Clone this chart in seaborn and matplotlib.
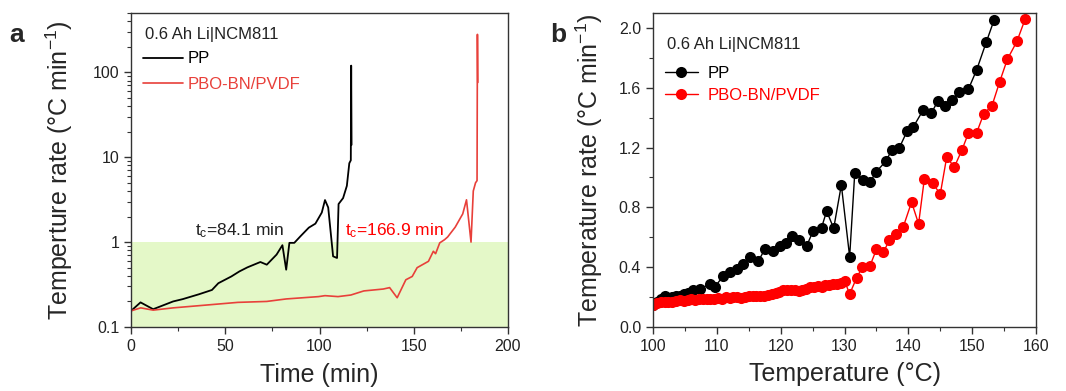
import matplotlib
matplotlib.use("Agg")
import matplotlib.pyplot as plt
import matplotlib.ticker as mticker
import pandas as pd
import seaborn as sns

# ---- panel a: temperature rate vs time (log scale) ----
pp_time = [0, 5, 11.7, 22.3, 27.4, 36, 42.9, 46.3, 53.2, 57.5, 61.7, 68.6, 72, 77.2,
           80.3, 82.3, 84, 86.6, 90, 94.3, 97.8, 101.2, 102.9, 104.6, 107.2, 109.3,
           110.1, 112.5, 114.5, 115.8, 116.6, 116.8, 117.0]
pp_rate = [0.155, 0.195, 0.162, 0.2, 0.213, 0.243, 0.273, 0.328, 0.394, 0.452, 0.504,
           0.583, 0.542, 0.713, 0.92, 0.473, 0.98, 0.98, 1.18, 1.48, 1.65, 2.23, 3.13,
           2.56, 0.68, 0.65, 2.81, 3.3, 4.6, 8.5, 9.2, 120, 14]

pbo_time = [0, 5.1, 11.7, 22.3, 39.5, 56.6, 72, 82.3, 99.5, 102.9, 109.8, 116.6, 123.5,
            133.8, 137.2, 141.2, 145.8, 149.2, 151.8, 157.8, 160.4, 161.6, 163.8, 166.4,
            168, 172, 176, 178, 180.4, 181.6, 182.8, 183.6, 183.8, 184.0]
pbo_rate = [0.155, 0.168, 0.158, 0.168, 0.181, 0.195, 0.2, 0.214, 0.228, 0.234, 0.228,
            0.238, 0.266, 0.28, 0.291, 0.221, 0.36, 0.394, 0.5, 0.594, 0.78, 0.73, 0.98,
            1.07, 1.15, 1.5, 2.15, 3.15, 1.0, 4.0, 5.0, 5.3, 280, 76]

# ---- panel b: temperature rate vs temperature ----
pp_temp = [100.0, 100.6, 101.2, 101.8, 102.4, 103.0, 103.6, 104.2, 104.8, 105.4, 106.3,
           107.3, 108.9, 109.7, 111.0, 112.0, 113.1, 114.1, 115.2, 116.5, 117.5, 118.8,
           119.9, 120.9, 121.7, 122.8, 124.1, 125.1, 126.4, 127.2, 128.3, 129.5, 130.8,
           131.6, 132.9, 134.0, 135.0, 136.5, 137.4, 138.6, 139.8, 140.8, 142.3, 143.6,
           144.6, 145.8, 146.8, 147.9, 149.4, 150.7, 152.2, 153.4]
pp_trate = [0.15, 0.17, 0.19, 0.21, 0.195, 0.2, 0.205, 0.21, 0.22, 0.225, 0.245, 0.256,
            0.285, 0.27, 0.34, 0.37, 0.39, 0.42, 0.47, 0.44, 0.52, 0.51, 0.54, 0.56, 0.61,
            0.58, 0.545, 0.645, 0.665, 0.775, 0.66, 0.95, 0.47, 1.03, 0.985, 0.97, 1.04,
            1.11, 1.185, 1.2, 1.31, 1.34, 1.45, 1.43, 1.51, 1.48, 1.52, 1.57, 1.59, 1.72,
            1.905, 2.05]

pbo_temp = [100.0, 100.6, 101.2, 101.8, 102.4, 103.0, 103.6, 104.2, 104.8, 105.4, 106.0,
            106.6, 107.2, 107.8, 108.4, 109.0, 109.6, 110.2, 110.8, 111.4, 112.0, 112.6,
            113.2, 113.8, 114.4, 115.0, 115.6, 116.2, 116.8, 117.4, 118.0, 118.6, 119.2,
            119.8, 120.4, 121.0, 121.6, 122.2, 122.8, 123.4, 124.0, 124.6, 125.2, 125.8,
            126.4, 127.0, 127.6, 128.2, 128.8, 129.4, 130.0, 130.8, 131.9, 132.8, 134.0,
            135.0, 136.1, 137.0, 138.1, 139.2, 140.5, 141.6, 142.5, 143.8, 145.0, 146.0,
            147.2, 148.4, 149.4, 150.7, 151.8, 153.1, 154.3, 155.5, 157.0, 158.3]
pbo_trate = [0.15, 0.16, 0.165, 0.17, 0.165, 0.17, 0.175, 0.18, 0.175, 0.18, 0.185, 0.18,
             0.185, 0.19, 0.185, 0.19, 0.19, 0.195, 0.19, 0.2, 0.195, 0.2, 0.2, 0.195, 0.2,
             0.21, 0.205, 0.21, 0.21, 0.205, 0.215, 0.22, 0.225, 0.235, 0.245, 0.245, 0.25,
             0.245, 0.24, 0.25, 0.255, 0.265, 0.27, 0.275, 0.27, 0.28, 0.28, 0.285, 0.29,
             0.295, 0.31, 0.22, 0.33, 0.40, 0.41, 0.52, 0.50, 0.58, 0.62, 0.67, 0.835, 0.69,
             0.99, 0.96, 0.89, 1.135, 1.07, 1.185, 1.296, 1.30, 1.425, 1.48, 1.64, 1.79,
             1.91, 2.06]

df_a_pp = pd.DataFrame({"t": pp_time, "r": pp_rate})
df_a_pbo = pd.DataFrame({"t": pbo_time, "r": pbo_rate})
df_b_pp = pd.DataFrame({"T": pp_temp, "r": pp_trate})
df_b_pbo = pd.DataFrame({"T": pbo_temp, "r": pbo_trate})

sns.set_style("ticks")
plt.rcParams["font.family"] = ["Liberation Sans", "DejaVu Sans"]
plt.rcParams["mathtext.fontset"] = "custom"
plt.rcParams["mathtext.rm"] = "Liberation Sans"
plt.rcParams["mathtext.it"] = "Liberation Sans:italic"
plt.rcParams["axes.edgecolor"] = "#333333"
plt.rcParams["xtick.color"] = "#333333"
plt.rcParams["ytick.color"] = "#333333"

fig = plt.figure(figsize=(10.66, 3.91), dpi=100)
ax1 = fig.add_axes([0.123, 0.1637, 0.3535, 0.803])
ax2 = fig.add_axes([0.6126, 0.1637, 0.3593, 0.803])

RED_LINE = "#e8403a"
RED = "#ff0000"
GREEN = "#e4f8c8"

# panel a
ax1.axhspan(0.1, 1, color=GREEN, zorder=0, lw=0)
sns.lineplot(data=df_a_pp, x="t", y="r", color="black", lw=1.3, estimator=None,
             sort=False, label="PP", ax=ax1)
sns.lineplot(data=df_a_pbo, x="t", y="r", color=RED_LINE, lw=1.2, estimator=None,
             sort=False, label="PBO-BN/PVDF", ax=ax1)
ax1.set_yscale("log")
ax1.set_xlim(0, 200)
ax1.set_ylim(0.1, 500)
ax1.set_yticks([0.1, 1, 10, 100])
ax1.set_yticklabels(["0.1", "1", "10", "100"])
ax1.xaxis.set_minor_locator(mticker.MultipleLocator(25))
ax1.yaxis.set_minor_locator(mticker.LogLocator(base=10, subs=range(2, 10)))
ax1.yaxis.set_minor_formatter(mticker.NullFormatter())
ax1.set_xlabel("Time (min)", fontsize=18)
ax1.set_ylabel("Temperture rate (°C min$^{-1}$)", fontsize=18)
ax1.xaxis.set_label_coords(0.5, -0.115)
ax1.yaxis.set_label_coords(-0.148, 0.5)
ax1.text(0.037, 0.93, "0.6 Ah Li|NCM811", transform=ax1.transAxes, fontsize=12,
         color="#222222", va="center")
ax1.text(34, 1.38, r"t$_{\mathrm{c}}$=84.1 min", fontsize=12.5, color="#222222",
         va="center")
ax1.text(113.5, 1.38, r"t$_{\mathrm{c}}$=166.9 min", fontsize=12.5, color=RED,
         va="center")
ax1.legend(loc="upper left", bbox_to_anchor=(0.0, 0.915), frameon=False,
           labelcolor="linecolor", fontsize=12, handlelength=2.4, handletextpad=0.3,
           labelspacing=0.65, borderaxespad=0.3)

# panel b
sns.lineplot(data=df_b_pp, x="T", y="r", color="black", lw=1.0, estimator=None,
             sort=False, marker="o", markersize=8, markeredgewidth=0, label="PP", ax=ax2)
sns.lineplot(data=df_b_pbo, x="T", y="r", color=RED, lw=1.0, estimator=None,
             sort=False, marker="o", markersize=8, markeredgewidth=0,
             label="PBO-BN/PVDF", ax=ax2)
ax2.set_xlim(100, 160)
ax2.set_ylim(0, 2.1)
ax2.set_xticks(range(100, 161, 10))
ax2.set_yticks([0.0, 0.4, 0.8, 1.2, 1.6, 2.0])
ax2.yaxis.set_major_formatter(mticker.FormatStrFormatter("%.1f"))
ax2.xaxis.set_minor_locator(mticker.MultipleLocator(5))
ax2.yaxis.set_minor_locator(mticker.MultipleLocator(0.2))
ax2.set_xlabel("Temperature (°C)", fontsize=18)
ax2.set_ylabel("Temperature rate (°C min$^{-1}$)", fontsize=18)
ax2.xaxis.set_label_coords(0.5, -0.11)
ax2.yaxis.set_label_coords(-0.125, 0.5)
ax2.text(0.037, 0.9, "0.6 Ah Li|NCM811", transform=ax2.transAxes, fontsize=12,
         color="#222222", va="center")
ax2.legend(loc="upper left", bbox_to_anchor=(0.0, 0.87), frameon=False,
           labelcolor="linecolor", fontsize=12, handlelength=2.0, handletextpad=0.6,
           labelspacing=0.45, borderaxespad=0.3)

for ax in (ax1, ax2):
    for side in ax.spines.values():
        side.set_linewidth(1.0)
    ax.tick_params(which="major", direction="out", length=5, width=1,
                   labelsize=11.5, labelcolor="#222222")
    ax.tick_params(which="minor", direction="out", length=3, width=0.8)
    ax.tick_params(top=False, right=False, which="both")

fig.text(0.009, 0.91, "a", fontsize=19, fontweight="bold", va="center")
fig.text(0.516, 0.91, "b", fontsize=19, fontweight="bold", va="center")

fig.savefig("out.png", dpi=100)
